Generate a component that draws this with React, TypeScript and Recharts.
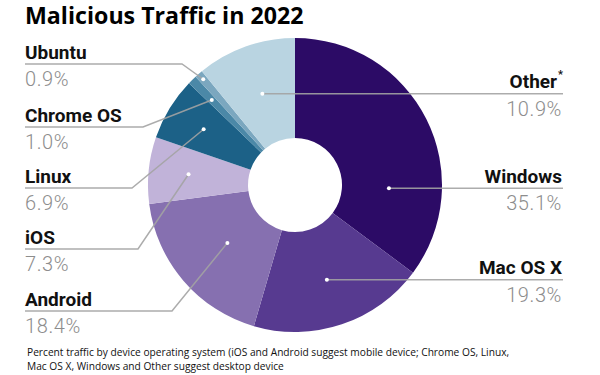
import React from 'react';
import { PieChart, Pie, Cell } from 'recharts';

const OS_NAMES = ['Windows', 'Mac OS X', 'Android', 'iOS', 'Linux', 'Chrome OS', 'Ubuntu', 'Other'];
const TRAFFIC_SHARE = [35.1, 19.3, 18.4, 7.3, 6.9, 1.0, 0.9, 10.9];
const SLICE_COLORS = ['#2c0b66', '#573a90', '#8670b0', '#c1b3d9', '#1c6187', '#4b88a7', '#7ba7bf', '#b9d4e1'];

// where each callout sits (left column uses fixed line rows, right column follows the dot)
const LABEL_LAYOUT: Record<string, any> = {
  Windows: { side: 'right', dotR: 94, dotAngle: -2 },
  'Mac OS X': { side: 'right', dotR: 100 },
  Android: { side: 'left', dotR: 89, lineY: 311, elbowX: 172 },
  iOS: { side: 'left', dotR: 107, lineY: 249, elbowX: 138 },
  Linux: { side: 'left', dotR: 107, lineY: 188, elbowX: 132 },
  'Chrome OS': { side: 'left', dotR: 119, lineY: 127, elbowX: 143 },
  Ubuntu: { side: 'left', dotR: 140, lineY: 64, elbowX: 182 },
  Other: { side: 'right', dotR: 97, star: true },
};

const chartData = OS_NAMES.map((name, i) => ({ name, value: TRAFFIC_SHARE[i] }));

const RADIAN = Math.PI / 180;
const LEFT_X = 25;
const RIGHT_X = 563;
const LINE_COLOR = '#a3a3a3';

const renderCallout = (props: any) => {
  const { cx, cy, midAngle, index } = props;
  const name = OS_NAMES[index];
  const layout = LABEL_LAYOUT[name];
  const angle = layout.dotAngle ?? midAngle;
  const dx = cx + layout.dotR * Math.cos(-angle * RADIAN);
  const dy = cy + layout.dotR * Math.sin(-angle * RADIAN);
  const pct = `${TRAFFIC_SHARE[index].toFixed(1)}%`;
  const nameStyle = { fontFamily: 'Roboto', fontWeight: 700, fontSize: 19, fill: '#111' };
  const pctStyle = { fontFamily: 'Roboto', fontWeight: 300, fontSize: 20, fill: '#8d8d8d', letterSpacing: 0.6 };

  if (layout.side === 'right') {
    return (
      <g key={`label-${index}`}>
        <line x1={dx} y1={dy} x2={RIGHT_X} y2={dy} stroke={LINE_COLOR} strokeWidth={1.5} strokeOpacity={0.9} />
        <circle cx={dx} cy={dy} r={2} fill="#fff" />
        <text x={layout.star ? RIGHT_X - 6 : RIGHT_X - 1} y={dy - 5.5} textAnchor="end" style={nameStyle}>
          {name}
        </text>
        {layout.star && (
          <text x={RIGHT_X} y={dy - 16} textAnchor="end" style={{ ...nameStyle, fontSize: 11 }}>*</text>
        )}
        <text x={RIGHT_X - 1} y={dy + 22} textAnchor="end" style={pctStyle}>
          {pct}
        </text>
      </g>
    );
  }

  return (
    <g key={`label-${index}`}>
      <polyline
        points={`${LEFT_X},${layout.lineY} ${layout.elbowX},${layout.lineY} ${dx},${dy}`}
        fill="none"
        stroke={LINE_COLOR}
        strokeWidth={1.5}
        strokeOpacity={0.9}
      />
      <circle cx={dx} cy={dy} r={2} fill="#fff" />
      <text x={LEFT_X} y={layout.lineY - 5.5} style={nameStyle}>
        {name}
      </text>
      <text x={LEFT_X} y={layout.lineY + 22} style={pctStyle}>
        {pct}
      </text>
    </g>
  );
};

export default function App() {
  return (
    <div style={{ position: 'absolute', left: 0, top: 0, width: 600, height: 375, background: '#fff', overflow: 'hidden' }}>
      <div
        style={{
          position: 'absolute',
          left: 25,
          top: 0,
          fontFamily: '"Open Sans", sans-serif',
          fontWeight: 700,
          fontSize: 23.2,
          lineHeight: '30px',
          color: '#000',
          whiteSpace: 'nowrap',
        }}
      >
        Malicious Traffic in 2022
      </div>
      <PieChart width={600} height={375} margin={{ top: 0, right: 0, bottom: 0, left: 0 }}>
        <Pie
          data={chartData}
          dataKey="value"
          nameKey="name"
          cx={295}
          cy={185}
          innerRadius={47}
          outerRadius={147}
          startAngle={90}
          endAngle={-270}
          stroke="none"
          label={renderCallout}
          labelLine={false}
          isAnimationActive={false}
        >
          {chartData.map((entry, index) => (
            <Cell key={`cell-${index}`} fill={SLICE_COLORS[index]} />
          ))}
        </Pie>
      </PieChart>
      <div
        style={{
          position: 'absolute',
          left: 27,
          top: 345,
          width: 560,
          fontFamily: '"Open Sans", sans-serif',
          fontSize: 10.2,
          lineHeight: '14px',
          color: '#111',
        }}
      >
        Percent traffic by device operating system (iOS and Android suggest mobile device; Chrome OS, Linux,
        <br />
        Mac OS X, Windows and Other suggest desktop device
      </div>
    </div>
  );
}
